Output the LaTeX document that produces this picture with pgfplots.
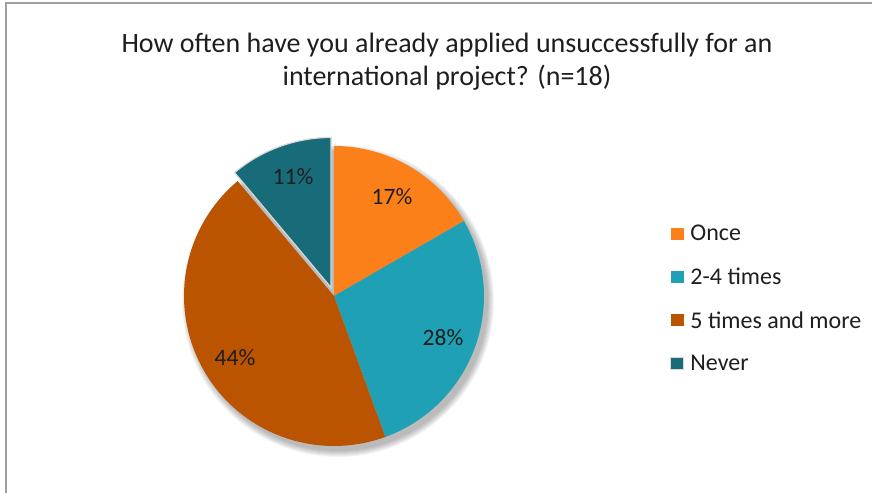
\documentclass[border=0pt]{standalone}
\usepackage{fontspec}
\setmainfont{Carlito}
\usepackage{pgfplots}
\pgfplotsset{compat=1.18}
\usepackage{pgfplotstable}

\definecolor{cOnce}{RGB}{252,128,25}
\definecolor{cTwo}{RGB}{32,160,180}
\definecolor{cFive}{RGB}{186,84,0}
\definecolor{cNever}{RGB}{24,107,121}
\definecolor{txt}{RGB}{30,30,30}

% answers, n=18
\pgfplotstableread{
answer count
Once 3
2-4 5
5+ 8
Never 2
}\piedata

\pgfplotstablegetelem{0}{count}\of\piedata\edef\nA{\pgfplotsretval}
\pgfplotstablegetelem{1}{count}\of\piedata\edef\nB{\pgfplotsretval}
\pgfplotstablegetelem{2}{count}\of\piedata\edef\nC{\pgfplotsretval}
\pgfplotstablegetelem{3}{count}\of\piedata\edef\nD{\pgfplotsretval}
\pgfmathsetmacro\total{\nA+\nB+\nC+\nD}
\pgfmathsetmacro\aA{360*\nA/\total}
\pgfmathsetmacro\aB{\aA+360*\nB/\total}
\pgfmathsetmacro\aC{\aB+360*\nC/\total}
\pgfmathsetmacro\aD{\aC+360*\nD/\total}
% pie centre and radius (1 unit = 1bp)
\def\cx{334}\def\cy{197}\def\pr{150}

\begin{document}
\begin{tikzpicture}
\begin{axis}[
  width=872bp, height=493bp, scale only axis,
  xmin=0, xmax=872, ymin=0, ymax=493,
  hide axis, clip=false,
  legend style={draw=none, fill=none, at={(0.765,0.552)}, anchor=north west,
    font=\fontsize{24bp}{29bp}\selectfont, text=txt, row sep=21.6bp,
    /tikz/every odd column/.append style={column sep=4bp}},
  legend cell align=left,
  legend image code/.code={\fill[#1] (0bp,-6bp) rectangle (13bp,6bp);},
]
% soft shadow
\pgfplotsinvokeforeach{0,...,6}{
  \fill[black,opacity=0.045] (axis cs:338,192) circle[radius={(150+#1)*1bp}];
}
\addplot[fill=cOnce, draw=none, domain=0:\aA, samples=60, variable=\t]
  ({\cx+\pr*sin(\t)},{\cy+\pr*cos(\t)}) -- (axis cs:\cx,\cy) -- cycle;
\addlegendentry{Once}
\addplot[fill=cTwo, draw=none, domain=\aA:\aB, samples=80, variable=\t]
  ({\cx+\pr*sin(\t)},{\cy+\pr*cos(\t)}) -- (axis cs:\cx,\cy) -- cycle;
\addlegendentry{2-4 times}
\addplot[fill=cFive, draw=none, domain=\aB:\aC, samples=120, variable=\t]
  ({\cx+\pr*sin(\t)},{\cy+\pr*cos(\t)}) -- (axis cs:\cx,\cy) -- cycle;
\addlegendentry{5 times and more}
\addplot[fill=cNever, draw=white!85!black, line width=1.2bp, domain=\aC:\aD, samples=40, variable=\t]
  ({\cx-3+\pr*sin(\t)},{\cy+8.5+\pr*cos(\t)}) -- (axis cs:\cx-3,\cy+8.5) -- cycle;
\addlegendentry{Never}

\begin{scope}[font=\fontsize{23.5bp}{28bp}\selectfont, text=txt]
\node at (axis cs:392,296) {17\%};
\node at (axis cs:443,155) {28\%};
\node at (axis cs:235,135) {44\%};
\node at (axis cs:293,316) {11\%};
\end{scope}

\node[align=center, text=txt, font=\fontsize{28bp}{33bp}\selectfont]
  at (axis cs:447,431) {How often have you already applied unsuccessfully for an\\international project? (n=18)};

\draw[gray!75, line width=1.5bp] (axis cs:6,0) -- (axis cs:6,490) -- (axis cs:872,490);
\end{axis}
\pgfresetboundingbox
\path[use as bounding box] (0,0) rectangle (872bp,493bp);
\end{tikzpicture}
\end{document}
